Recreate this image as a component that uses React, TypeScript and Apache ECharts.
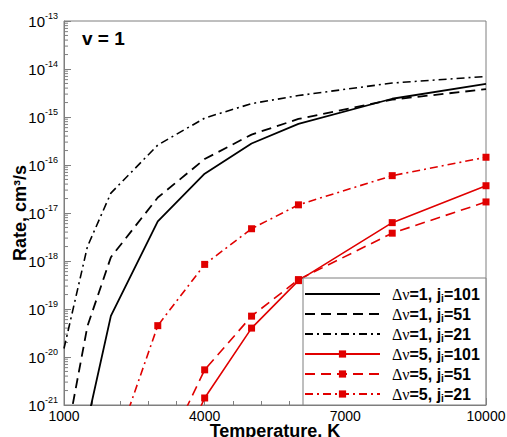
import React, { useEffect, useRef } from "react";
import * as echarts from "echarts";

const temps = [1000, 1500, 2000, 3000, 4000, 5000, 6000, 8000, 10000];

const dv1j101 = [null, 4.5e-22, 7.2e-20, 6.7e-18, 6.6e-17, 2.8e-16, 7.2e-16, 2.4e-15, 4.9e-15];
const dv1j51 = [1.1e-22, 4.4e-20, 1.2e-18, 2.1e-17, 1.33e-16, 4.3e-16, 9.1e-16, 2.3e-15, 3.8e-15];
const dv1j21 = [1.5e-20, 2.0e-18, 2.6e-17, 2.6e-16, 9.5e-16, 1.9e-15, 2.8e-15, 5.1e-15, 7.0e-15];
const dv5j101 = [null, null, null, 1e-23, 1.4e-21, 4.0e-20, 3.9e-19, 6.3e-18, 3.7e-17];
const dv5j51 = [null, null, null, 5e-23, 5.4e-21, 7.1e-20, 4.1e-19, 3.8e-18, 1.7e-17];
const dv5j21 = [null, null, 7e-23, 4.5e-20, 8.5e-19, 4.7e-18, 1.48e-17, 6.0e-17, 1.45e-16];

const seriesNames = [
  "Δν=1, j_i=101",
  "Δν=1, j_i=51",
  "Δν=1, j_i=21",
  "Δν=5, j_i=101",
  "Δν=5, j_i=51",
  "Δν=5, j_i=21",
];

const xTicks = [1000, 4000, 7000, 10000];
const yExponents = [-21, -20, -19, -18, -17, -16, -15, -14, -13];

const FONT = "'Liberation Sans', Arial, sans-serif";
const RED = "#e00000";
const AXIS_GRAY = "#7f7f7f";

// ECharts rounds log-axis tick values to 10 decimals, so values are expressed
// in units of 10^-21 for the axis and relabelled as powers of ten.
const BASE_EXP = yExponents[0];
const SCALE = Math.pow(10, -BASE_EXP);

function toData(vals: (number | null)[]) {
  return temps.map((t, i) => [t, vals[i] == null ? "-" : (vals[i] as number) * SCALE]);
}

// minor tick positions (2..9 x 10^n) for the log axis
const minorTickValues: number[][] = [];
for (let e = yExponents[0]; e < yExponents[yExponents.length - 1]; e++) {
  for (let k = 2; k <= 9; k++) {
    minorTickValues.push([xTicks[0], k * Math.pow(10, e - BASE_EXP)]);
  }
}

export default function App() {
  const ref = useRef<HTMLDivElement>(null);
  useEffect(() => {
    if (!ref.current) return;
    const chart = echarts.init(ref.current, null, { renderer: "svg" });

    const lineStyles: any[] = [
      { color: "#000", width: 1.8, type: "solid" },
      { color: "#000", width: 1.8, type: [10, 6] },
      { color: "#000", width: 1.6, type: [8, 4, 2, 4] },
      { color: RED, width: 1.6, type: "solid" },
      { color: RED, width: 1.6, type: [10, 6] },
      { color: RED, width: 1.6, type: [8, 4, 2, 4] },
    ];
    const datas = [dv1j101, dv1j51, dv1j21, dv5j101, dv5j51, dv5j21];

    const lineSeries = datas.map((d, i) => ({
      name: seriesNames[i],
      type: "line",
      data: toData(d),
      clip: true,
      symbol: i >= 3 ? "rect" : "none",
      symbolSize: 7,
      showSymbol: i >= 3,
      lineStyle: lineStyles[i],
      itemStyle: { color: lineStyles[i].color },
      z: 3,
    }));

    const legendFormatter = (name: string) => {
      const [pre, post] = name.split("_i");
      const [delta, rest] = [pre.slice(0, 2), pre.slice(2)];
      return `{sp|}{g|${delta}}{b|${rest}}{sub|i}{b|${post}}`;
    };

    chart.setOption({
      animation: false,
      grid: {
        left: 64,
        right: 21,
        top: 21,
        bottom: 32,
        outerBoundsMode: "none",
        containLabel: false,
        show: true,
        borderColor: AXIS_GRAY,
        borderWidth: 1,
        backgroundColor: "transparent",
      },
      title: {
        text: "v = 1",
        left: 77,
        top: 24,
        textStyle: { fontFamily: FONT, fontSize: 19, fontWeight: "bold", color: "#000" },
      },
      legend: {
        data: seriesNames.map((n, i) => (i < 3 ? { name: n, itemStyle: { opacity: 0 } } : { name: n })),
        orient: "vertical",
        left: 303,
        top: 278,
        itemWidth: 75,
        itemHeight: 9,
        itemGap: 3,
        padding: [8, 6, 2, 1],
        backgroundColor: "#fff",
        borderColor: AXIS_GRAY,
        borderWidth: 1,
        formatter: legendFormatter,
        textStyle: {
          fontFamily: FONT,
          rich: {
            sp: { width: 7 },
            g: { fontFamily: "'Liberation Serif', 'DejaVu Serif', serif", fontSize: 16, color: "#000", lineHeight: 18 },
            b: { fontFamily: FONT, fontSize: 16, fontWeight: "bold", color: "#000", lineHeight: 18 },
            sub: { fontFamily: FONT, fontSize: 10, fontWeight: "bold", color: "#000", verticalAlign: "bottom" },
          },
        },
      },
      xAxis: {
        type: "value",
        min: xTicks[0],
        max: xTicks[xTicks.length - 1],
        interval: xTicks[1] - xTicks[0],
        name: "Temperature, K",
        nameLocation: "middle",
        nameGap: 17,
        nameMoveOverlap: false,
        nameTextStyle: { fontFamily: FONT, fontSize: 18, fontWeight: "bold", color: "#000" },
        axisLine: { show: true, lineStyle: { color: AXIS_GRAY, width: 1 } },
        axisTick: { show: true, inside: true, length: 7, lineStyle: { color: AXIS_GRAY } },
        minorTick: { show: true, splitNumber: 5, length: 4, lineStyle: { color: AXIS_GRAY } },
        axisLabel: {
          fontFamily: FONT,
          fontSize: 14,
          color: "#000",
          margin: 4,
          hideOverlap: false,
          formatter: (v: number) => String(v),
        },
        splitLine: { show: false },
      },
      yAxis: {
        type: "log",
        logBase: 10,
        min: 1,
        max: Math.pow(10, yExponents[yExponents.length - 1] - BASE_EXP),
        splitNumber: 8,
        name: "Rate, cm³/s",
        nameLocation: "middle",
        nameGap: 35,
        nameMoveOverlap: false,
        nameTextStyle: { fontFamily: FONT, fontSize: 18, fontWeight: "bold", color: "#000" },
        axisLine: { show: true, lineStyle: { color: AXIS_GRAY, width: 1 } },
        axisTick: { show: true, inside: true, length: 7, lineStyle: { color: AXIS_GRAY } },
        axisLabel: {
          margin: 6,
          formatter: (v: number) => {
            const e = Math.round(Math.log10(v)) + BASE_EXP;
            return `{b|10}{s|${e}}`;
          },
          rich: {
            b: { fontFamily: FONT, fontSize: 15, color: "#000", lineHeight: 20 },
            s: { fontFamily: FONT, fontSize: 9, color: "#000", verticalAlign: "top" },
          },
        },
        splitLine: { show: false },
      },
      series: [
        ...lineSeries,
        {
          type: "custom",
          name: "minorTicks",
          silent: true,
          clip: false,
          data: minorTickValues,
          z: 2,
          renderItem: (params: any, api: any) => {
            const p = api.coord([api.value(0), api.value(1)]);
            return {
              type: "line",
              shape: { x1: p[0], y1: p[1], x2: p[0] + 4, y2: p[1] },
              style: { stroke: AXIS_GRAY, lineWidth: 1 },
            };
          },
        },
      ],
    });
    return () => chart.dispose();
  }, []);
  return <div ref={ref} style={{ width: 507, height: 437, position: "absolute", left: 0, top: 0 }} />;
}
